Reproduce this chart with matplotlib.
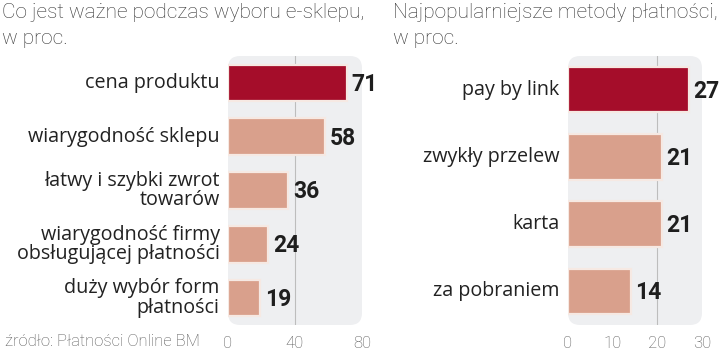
import matplotlib
matplotlib.use("Agg")
import matplotlib.pyplot as plt
from matplotlib.patches import FancyBboxPatch

# ---- data ----
left_title = "Co jest ważne podczas wyboru e-sklepu,\nw proc."
left_categories = ["cena produktu", "wiarygodność sklepu", "łatwy i szybki zwrot\ntowarów",
                   "wiarygodność firmy\nobsługującej płatności", "duży wybór form\npłatności"]
left_values = [71, 58, 36, 24, 19]
left_ticks = [0, 40, 80]

right_title = "Najpopularniejsze metody płatności,\nw proc."
right_categories = ["pay by link", "zwykły przelew", "karta", "za pobraniem"]
right_values = [27, 21, 21, 14]
right_ticks = [0, 10, 20, 30]

source = "źródło: Płatności Online BM"

RED = "#A50D2A"
SALMON = "#D9A08C"
PANEL = "#EEEFF1"
W, H = 720, 352

fig = plt.figure(figsize=(7.2, 3.52), dpi=100)
fig.patch.set_facecolor("white")

LBL_FONT = ["Open Sans", "Roboto", "DejaVu Sans"]
VAL_FONT = ["Roboto", "DejaVu Sans"]


def make_panel(x0, x1, y0, y1, cats, vals, ticks, xmax, gridval):
    ax = fig.add_axes([x0 / W, 1 - y1 / H, (x1 - x0) / W, (y1 - y0) / H])
    ax.set_xlim(0, xmax)
    n = len(cats)
    ax.set_ylim(n - 0.5, -0.5)
    ax.axis("off")
    asp = (x1 - x0) / (y1 - y0)
    panel = FancyBboxPatch((0, 0), 1, 1, boxstyle="round,pad=0,rounding_size=0.09",
                           mutation_aspect=asp,
                           transform=ax.transAxes, facecolor=PANEL, edgecolor="none",
                           zorder=0, clip_on=False)
    ax.add_patch(panel)
    ax.axvline(gridval, color="#BDBDBD", lw=0.8, zorder=1)
    colors = [RED] + [SALMON] * (n - 1)
    ax.barh(range(n), vals, height=0.68, color=colors, edgecolor="#F6E9E3",
            linewidth=1.6, zorder=2)
    for i, (c, v) in enumerate(zip(cats, vals)):
        ax.annotate(c, (0, i), xytext=(-6, 0), textcoords="offset points",
                    ha="right", va="center", fontsize=14.2, color="#222222",
                    family=LBL_FONT, linespacing=0.95, annotation_clip=False)
        ax.annotate(str(v), (v, i), xytext=(3.5, -1), textcoords="offset points",
                    ha="left", va="center", fontsize=16.5, fontweight="bold",
                    color="#1E1E1E", family=VAL_FONT, annotation_clip=False)
    for t in ticks:
        ax.annotate(str(t), (t, n - 0.5), xytext=(0, -13.5), textcoords="offset points",
                    ha="center", va="center", fontsize=12, color="#555555",
                    family=["Roboto", "DejaVu Sans"], fontweight="light",
                    annotation_clip=False)
    return ax


make_panel(228, 362, 56, 325, left_categories, left_values, left_ticks, 80, 40)
make_panel(568, 702, 56, 325, right_categories, right_values, right_ticks, 30, 20)

fig.text(2 / W, 1 - 3 / H, left_title, ha="left", va="top", fontsize=15,
         color="#333333", family=["Roboto", "DejaVu Sans"], fontweight="light",
         linespacing=1.5)
fig.text(393 / W, 1 - 3 / H, right_title, ha="left", va="top", fontsize=15,
         color="#333333", family=["Roboto", "DejaVu Sans"], fontweight="light",
         linespacing=1.5)
fig.text(5 / W, 1 - 342 / H, source, ha="left", va="center", fontsize=12,
         color="#555555", family=["Roboto", "DejaVu Sans"], fontweight="light")

fig.savefig("out.png", dpi=100, facecolor="white")
